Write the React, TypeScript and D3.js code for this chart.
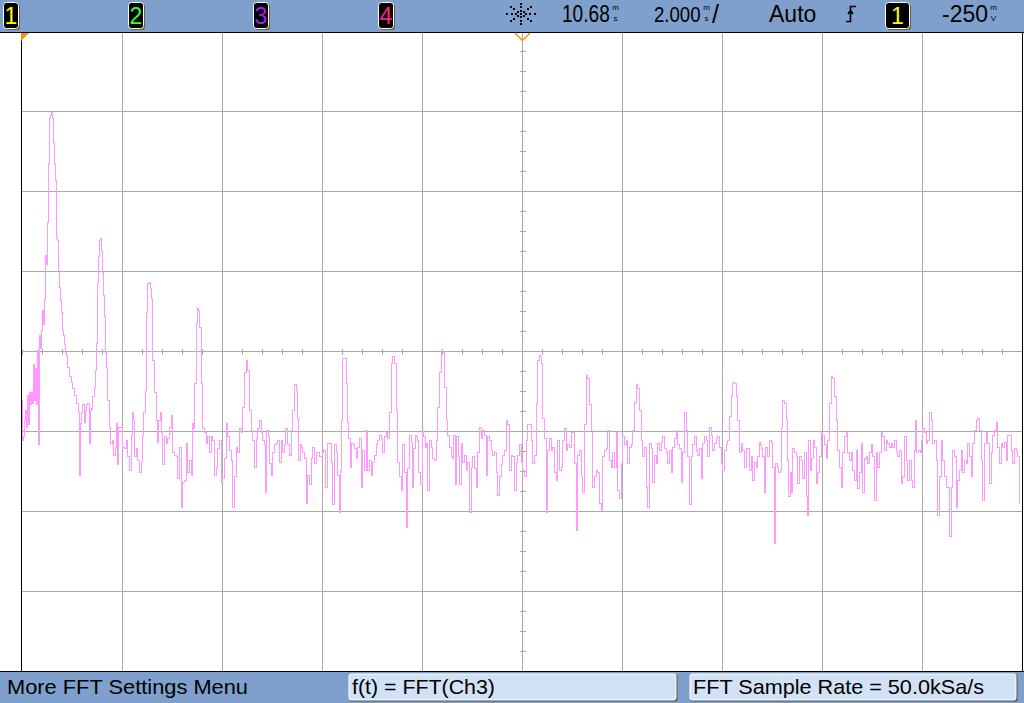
import React from "react";
import * as d3 from "d3";

// ---------- data ----------
// FFT display: 1000 display points across 10 divisions, 25 Hz per point (0 - 25 kHz span)
const spanKHz = 25;
const displayPoints = 1000;
// vertical: 10 dB/div, 8 divisions, top of screen = 0 dBV
const dbTop = 0;
const dbBottom = -80;

// [display point, magnitude dBV]
const spectrum: [number, number][] = [
  [1, -46.0], [2, -51.0], [3, -50.6], [4, -48.5], [5, -47.3], [6, -49.4], [7, -45.4], [8, -49.1],
  [9, -45.0], [10, -46.6], [11, -45.1], [12, -46.4], [13, -41.6], [14, -46.0], [15, -42.0], [16, -46.6],
  [17, -39.8], [18, -51.6], [19, -37.9], [20, -39.5], [21, -37.3], [22, -34.8], [23, -36.6], [24, -33.3],
  [25, -27.9], [26, -29.1], [27, -23.8], [28, -16.4], [29, -10.8], [30, -10.4], [31, -10.0], [32, -10.8],
  [33, -13.8], [34, -16.6], [35, -18.5], [36, -25.8], [37, -26.0], [38, -29.8], [39, -31.9], [40, -33.5],
  [41, -35.0], [42, -37.3], [43, -37.9], [44, -39.1], [45, -40.0], [46, -40.5], [47, -41.9], [49, -43.1],
  [51, -43.8], [52, -44.5], [54, -45.4], [56, -46.4], [58, -47.5], [59, -55.4], [60, -48.9], [61, -47.6],
  [62, -46.6], [64, -48.8], [65, -47.3], [66, -46.6], [67, -46.4], [69, -51.4], [70, -47.3], [71, -47.0],
  [72, -45.6], [74, -44.4], [75, -42.3], [76, -38.9], [77, -31.3], [78, -28.1], [79, -26.0], [80, -25.8],
  [81, -27.3], [82, -30.0], [83, -32.9], [84, -35.6], [85, -40.1], [86, -41.9], [87, -46.0], [89, -49.4],
  [90, -51.4], [92, -51.0], [93, -52.9], [95, -51.9], [96, -48.9], [97, -54.1], [98, -49.4], [100, -49.4],
  [102, -51.9], [104, -52.0], [106, -51.0], [107, -53.1], [109, -54.8], [111, -50.4], [112, -47.6], [113, -48.5],
  [114, -53.1], [116, -52.0], [117, -53.5], [119, -55.1], [121, -53.8], [122, -50.4], [123, -47.6], [125, -44.8],
  [126, -35.1], [127, -31.4], [129, -31.3], [130, -32.0], [131, -33.3], [132, -41.0], [134, -45.0], [136, -48.5],
  [137, -51.3], [138, -48.5], [140, -47.6], [141, -50.1], [142, -54.1], [144, -50.6], [146, -51.4], [147, -50.8],
  [149, -49.4], [151, -47.9], [152, -52.6], [154, -52.9], [156, -53.1], [157, -55.8], [159, -51.9], [161, -59.4],
  [162, -56.3], [164, -56.0], [166, -51.4], [167, -55.0], [169, -53.5], [171, -55.4], [172, -48.9], [173, -49.5],
  [174, -43.9], [176, -36.4], [177, -34.5], [178, -34.8], [179, -36.9], [181, -43.9], [182, -49.5], [184, -50.0],
  [186, -51.4], [187, -50.6], [189, -52.6], [191, -50.6], [192, -51.0], [194, -55.4], [196, -54.4], [197, -52.0],
  [199, -51.0], [201, -56.3], [202, -55.8], [204, -53.3], [206, -48.9], [207, -50.6], [209, -52.3], [211, -53.5],
  [212, -59.4], [214, -55.6], [216, -51.9], [217, -52.6], [219, -49.5], [221, -50.0], [222, -46.9], [224, -42.5],
  [226, -41.0], [227, -42.3], [229, -47.3], [231, -49.8], [232, -51.0], [234, -54.4], [236, -50.8], [237, -49.5],
  [239, -48.5], [241, -50.1], [242, -51.0], [244, -51.6], [245, -57.6], [246, -49.8], [248, -50.6], [249, -53.9],
  [251, -55.4], [252, -52.6], [254, -51.6], [256, -51.4], [257, -51.0], [259, -53.8], [261, -51.0], [262, -52.6],
  [264, -51.6], [265, -49.5], [267, -51.6], [269, -52.9], [271, -49.8], [272, -47.3], [274, -44.1], [275, -44.1],
  [276, -44.8], [277, -48.3], [278, -53.5], [280, -51.6], [281, -51.9], [282, -52.6], [284, -53.3], [286, -58.9],
  [287, -55.4], [289, -56.6], [291, -53.3], [292, -51.9], [294, -53.9], [296, -52.6], [297, -52.5], [299, -53.1],
  [301, -53.1], [302, -52.5], [303, -52.3], [305, -56.9], [307, -51.4], [309, -51.4], [311, -53.8], [312, -59.1],
  [314, -51.6], [316, -52.5], [317, -55.4], [319, -60.0], [320, -54.8], [321, -48.5], [322, -40.8], [324, -40.8],
  [326, -43.9], [327, -48.8], [328, -50.8], [330, -54.4], [331, -51.4], [333, -51.6], [334, -52.0], [336, -53.3],
  [337, -51.9], [339, -50.8], [341, -56.9], [342, -52.3], [344, -54.8], [346, -49.8], [347, -54.8], [349, -53.5],
  [351, -55.4], [352, -53.8], [354, -52.9], [356, -51.6], [357, -51.0], [359, -50.4], [361, -50.8], [362, -52.5],
  [364, -50.6], [366, -50.0], [367, -50.8], [369, -47.6], [371, -41.4], [372, -40.6], [374, -41.4], [376, -47.3],
  [377, -53.8], [379, -55.6], [381, -57.3], [382, -51.6], [384, -55.0], [386, -61.9], [387, -54.5], [389, -50.4],
  [391, -51.3], [392, -56.9], [393, -52.0], [395, -50.4], [396, -50.6], [397, -51.0], [398, -55.1], [400, -56.6],
  [402, -49.8], [403, -50.6], [405, -51.9], [406, -51.4], [407, -57.3], [409, -51.0], [411, -51.9], [412, -53.3],
  [414, -53.5], [416, -51.0], [417, -46.9], [419, -42.6], [421, -39.8], [422, -40.0], [424, -44.4], [426, -48.5],
  [427, -50.4], [429, -51.9], [431, -53.1], [432, -53.3], [433, -50.4], [435, -56.6], [436, -50.6], [438, -53.1],
  [439, -56.6], [441, -51.4], [442, -53.8], [444, -52.9], [446, -54.8], [447, -53.8], [449, -60.0], [451, -54.4],
  [452, -53.1], [454, -54.5], [456, -56.9], [457, -52.5], [459, -49.4], [461, -50.8], [462, -49.8], [464, -50.4],
  [466, -55.4], [467, -50.6], [469, -51.0], [471, -52.3], [472, -52.9], [474, -52.6], [476, -55.0], [477, -57.9],
  [479, -55.6], [481, -54.1], [482, -52.9], [484, -52.3], [486, -48.5], [487, -49.1], [489, -54.8], [491, -52.9],
  [492, -53.1], [494, -57.3], [496, -53.8], [497, -52.9], [499, -51.6], [501, -53.8], [502, -54.8], [504, -55.6],
  [506, -51.0], [507, -49.1], [509, -49.1], [511, -51.0], [512, -53.9], [514, -52.9], [516, -46.4], [517, -41.0],
  [519, -40.4], [520, -40.5], [521, -41.4], [522, -48.3], [524, -50.8], [526, -60.1], [527, -52.3], [529, -50.8],
  [531, -52.3], [532, -51.9], [534, -55.1], [536, -56.0], [537, -51.0], [539, -54.8], [541, -54.4], [542, -51.0],
  [544, -49.5], [546, -52.3], [547, -51.6], [549, -51.9], [551, -50.1], [552, -50.0], [554, -53.9], [556, -62.3],
  [557, -52.9], [559, -52.3], [561, -55.6], [562, -57.6], [564, -49.1], [566, -42.9], [567, -43.3], [569, -46.6],
  [571, -49.8], [572, -56.9], [574, -55.6], [576, -54.8], [577, -55.1], [579, -58.9], [581, -59.8], [582, -53.1],
  [584, -52.3], [586, -52.0], [587, -49.8], [589, -53.5], [591, -54.4], [592, -52.6], [594, -54.4], [596, -50.0],
  [597, -57.3], [599, -58.3], [601, -53.9], [602, -50.6], [604, -51.6], [606, -51.0], [607, -53.9], [609, -51.9],
  [611, -51.6], [612, -49.8], [614, -46.3], [616, -44.1], [617, -44.5], [619, -47.3], [621, -51.0], [622, -53.1],
  [624, -51.9], [626, -56.9], [627, -59.4], [629, -51.4], [631, -52.0], [632, -56.3], [634, -52.9], [636, -53.9],
  [637, -51.4], [639, -52.3], [641, -51.3], [642, -50.6], [644, -52.0], [646, -52.6], [647, -53.9], [649, -52.3],
  [651, -55.1], [652, -51.9], [654, -50.8], [656, -49.8], [657, -51.6], [659, -52.0], [661, -56.3], [662, -52.5],
  [664, -47.6], [666, -49.8], [667, -53.1], [669, -59.1], [671, -53.1], [672, -51.6], [674, -50.6], [676, -52.3],
  [677, -52.9], [679, -52.0], [681, -55.8], [682, -51.4], [684, -50.6], [686, -51.0], [687, -53.1], [689, -49.4],
  [691, -50.4], [692, -52.3], [694, -51.4], [696, -50.8], [697, -50.6], [699, -51.9], [701, -53.9], [702, -54.8],
  [704, -52.3], [706, -51.6], [707, -51.0], [709, -48.1], [711, -45.6], [712, -43.8], [714, -43.9], [716, -45.6],
  [717, -48.5], [719, -52.6], [721, -51.4], [722, -52.3], [724, -54.4], [726, -52.0], [727, -52.0], [729, -54.8],
  [731, -53.1], [732, -56.0], [734, -53.8], [736, -54.4], [737, -53.1], [739, -51.3], [740, -51.6], [741, -52.0],
  [742, -53.1], [744, -57.6], [745, -51.9], [747, -53.1], [749, -51.0], [751, -51.3], [752, -54.4], [754, -63.9],
  [755, -53.9], [757, -54.4], [758, -55.1], [760, -54.8], [761, -49.4], [762, -46.0], [764, -46.4], [766, -48.5],
  [767, -53.5], [768, -58.1], [770, -55.1], [771, -57.6], [772, -52.0], [774, -52.6], [776, -53.1], [777, -56.4],
  [779, -53.1], [781, -53.5], [782, -55.8], [784, -52.5], [786, -58.1], [787, -60.4], [788, -51.0], [790, -54.8],
  [791, -53.3], [793, -51.0], [794, -51.9], [796, -56.4], [797, -55.1], [799, -53.1], [801, -50.0], [802, -50.4],
  [804, -51.6], [806, -53.3], [807, -51.0], [809, -46.4], [811, -43.1], [812, -43.3], [814, -45.6], [816, -48.5],
  [817, -52.3], [819, -54.4], [821, -56.9], [822, -52.6], [824, -50.6], [826, -50.1], [827, -52.6], [829, -53.5],
  [831, -52.6], [832, -54.8], [834, -56.0], [836, -52.3], [837, -57.0], [839, -55.1], [841, -51.4], [842, -57.6],
  [844, -53.3], [846, -53.1], [847, -53.9], [849, -52.6], [851, -51.6], [852, -53.1], [854, -58.5], [856, -52.6],
  [857, -54.4], [859, -52.5], [861, -50.1], [862, -50.6], [864, -52.3], [866, -51.0], [867, -51.4], [869, -51.9],
  [871, -51.4], [872, -51.9], [874, -51.0], [876, -52.6], [877, -53.1], [879, -52.3], [881, -56.4], [882, -55.6],
  [884, -50.6], [886, -53.5], [887, -56.0], [889, -53.5], [891, -56.0], [892, -56.9], [894, -52.3], [895, -48.5],
  [896, -52.6], [898, -52.3], [900, -52.6], [901, -51.0], [902, -49.5], [904, -50.0], [906, -51.4], [907, -51.0],
  [909, -47.6], [911, -48.5], [912, -51.4], [914, -51.0], [916, -53.5], [917, -60.4], [919, -55.6], [921, -51.0],
  [922, -53.5], [924, -55.6], [926, -56.9], [927, -56.9], [929, -63.1], [931, -56.9], [932, -52.3], [934, -53.1],
  [936, -59.4], [937, -56.0], [939, -54.8], [941, -52.3], [942, -55.1], [944, -53.5], [946, -53.9], [947, -51.4],
  [949, -53.1], [951, -55.6], [952, -51.4], [954, -49.8], [956, -48.5], [957, -48.3], [959, -49.8], [961, -53.5],
  [962, -58.5], [964, -51.4], [966, -50.1], [967, -51.4], [969, -56.4], [971, -52.6], [972, -50.4], [974, -49.8],
  [976, -48.8], [977, -51.9], [979, -53.9], [981, -51.4], [982, -51.9], [984, -51.3], [986, -53.5], [987, -50.4],
  [989, -50.4], [991, -52.3], [992, -53.9], [994, -52.0], [996, -52.3], [997, -53.1], [999, -58.9],
];

const channelLabels = ["1", "2", "3", "4"];
const channelColors = ["#ffff00", "#33ff33", "#a020f0", "#ff2090"];
const delayValue = "10.68";
const timebaseValue = "2.000";
const triggerMode = "Auto";
const triggerSource = "1";
const triggerLevel = "-250";
const softkeyTitle = "More FFT Settings Menu";
const softkeys = ["f(t) = FFT(Ch3)", "FFT Sample Rate = 50.0kSa/s"];

// ---------- styles ----------
const W = 1024;
const H = 703;
const BAR = "#7fa0cd";
const GRID = "#a9a9a9";
const TRACE = "#ff99ff";
const ORANGE = "#ff9000";
const FONT = "'Liberation Sans', Arial, sans-serif";

function Badge({ x, y, w, h, label, color }: any) {
  return (
    <g>
      <rect x={x + 1.5} y={y + 1.5} width={w} height={h} rx={3} fill="#6b6238" />
      <rect x={x} y={y} width={w} height={h} rx={3} fill="#000" stroke="#fff" strokeWidth={1} />
      <text x={x + w / 2} y={y + h / 2 + 8} textAnchor="middle" fill={color} fontSize={23} fontFamily={FONT}>
        {label}
      </text>
    </g>
  );
}

function Units({ x, top, bottom }: any) {
  return (
    <g fontFamily={FONT} fontSize={8} fill="#000" textAnchor="middle">
      <text x={x} y={10}>{top}</text>
      <text x={x} y={21}>{bottom}</text>
    </g>
  );
}

export default function App() {
  const left = 21, right = 1021, top = 32, bottom = 672;
  const x = d3.scaleLinear().domain([0, displayPoints]).range([left, right]);
  const y = d3.scaleLinear().domain([dbTop, dbBottom]).range([top, bottom]);
  const divX = d3.scaleLinear().domain([0, 10]).range([22, 1022]);
  const divY = d3.scaleLinear().domain([0, 8]).range([31, 671]);

  const line = d3
    .line<[number, number]>()
    .x((d) => x(d[0]))
    .y((d) => y(d[1]))
    .curve(d3.curveStep);

  const vGrid = d3.range(1, 10).map((i) => Math.round(divX(i)) + 0.5);
  const hGrid = d3.range(1, 8).map((i) => Math.round(divY(i)) + 0.5);
  const cx = Math.round(divX(5)) + 0.5;
  const cy = Math.round(divY(4)) + 0.5;
  const hTicks = d3.range(0, 50).map((i) => Math.round(divX(i / 5)) + 0.5).filter((v) => v > left + 1);
  const vTicks = d3.range(0, 32).map((i) => Math.round(divY(i / 4)) + 0.5).filter((v) => v > top + 1);

  // sun (acquisition) icon dots
  const sun: [number, number][] = [[521, 14]];
  for (let a = 0; a < 8; a++) {
    const ang = (a * Math.PI) / 4;
    for (const r of [4, 8, 12]) sun.push([521 + Math.cos(ang) * r * 1.15, 14 + Math.sin(ang) * r * 0.85]);
  }

  return (
    <svg width={W} height={H} style={{ position: "absolute", left: 0, top: 0, background: "#fff" }}>
      <rect x={0} y={0} width={W} height={H} fill="#fff" />
      {/* top status bar */}
      <rect x={0} y={0} width={W} height={32} fill={BAR} />
      {channelLabels.map((c, i) => (
        <Badge key={c} x={3.5 + i * 125} y={2.5} w={15} h={26} label={c} color={channelColors[i]} />
      ))}
      <g fill="#000">
        {sun.map((p, i) => (
          <rect key={i} x={Math.round(p[0] - 1)} y={Math.round(p[1] - 1)} width={2} height={2} />
        ))}
      </g>
      <g fontFamily={FONT} fontSize={23} fill="#000">
        <text transform="translate(562,22) scale(0.83,1)">{delayValue}</text>
        <text transform="translate(654,22) scale(0.81,1)">{timebaseValue}</text>
        <text x={712} y={23} fontSize={25}>/</text>
        <text x={769} y={22}>{triggerMode}</text>
        <text x={942} y={22}>{triggerLevel}</text>
      </g>
      <Units x={615.5} top="m" bottom="s" />
      <Units x={706.5} top="m" bottom="s" />
      <Units x={993.5} top="m" bottom="V" />
      <path d="M846,21.5 H850.5 V6.5 H856 M848,14 L850.5,10.5 L853,14" fill="none" stroke="#000" strokeWidth={1.6} />
      <Badge x={885.5} y={2.5} w={24} h={26} label={triggerSource} color="#ffff00" />

      {/* graticule */}
      <g stroke={GRID} strokeWidth={1} shapeRendering="crispEdges">
        {vGrid.map((v) => (
          <line key={"v" + v} x1={v} x2={v} y1={top} y2={bottom} />
        ))}
        {hGrid.map((h) => (
          <line key={"h" + h} x1={left} x2={1022} y1={h} y2={h} />
        ))}
        {hTicks.map((t) => (
          <line key={"ht" + t} x1={t} x2={t} y1={cy - 3} y2={cy + 3} />
        ))}
        {vTicks.map((t) => (
          <line key={"vt" + t} x1={cx - 3} x2={cx + 3} y1={t} y2={t} />
        ))}
      </g>

      {/* trace */}
      <clipPath id="plot">
        <rect x={left + 1} y={top + 1} width={right - left} height={bottom - top - 1} />
      </clipPath>
      <path d={line(spectrum) || ""} fill="none" stroke={TRACE} strokeWidth={1} clipPath="url(#plot)" shapeRendering="crispEdges" />

      {/* borders */}
      <g stroke="#000" strokeWidth={1} shapeRendering="crispEdges">
        <line x1={0} x2={W} y1={32.5} y2={32.5} />
        <line x1={0} x2={W} y1={671.5} y2={671.5} />
        <line x1={21.5} x2={21.5} y1={32} y2={672} />
        <line x1={1022.5} x2={1022.5} y1={32} y2={672} />
      </g>

      {/* markers */}
      <path d="M21,33 H29 L21,41 Z" fill={ORANGE} />
      <path d="M515,33 L522.5,40.5 L530,33" fill="none" stroke={ORANGE} strokeWidth={1.5} />

      {/* softkey bar */}
      <rect x={0} y={672} width={W} height={31} fill={BAR} />
      <text x={7} y={694} fontFamily={FONT} fontSize={21} fill="#000" textLength={241} lengthAdjust="spacingAndGlyphs">
        {softkeyTitle}
      </text>
      {[349, 690].map((bx, i) => (
        <g key={bx}>
          <rect x={bx + 0.5} y={674.5} width={i === 0 ? 328 : 327} height={27} rx={2} fill="#5a5230" />
          <rect x={bx} y={674} width={i === 0 ? 327 : 326} height={26} rx={2} fill="#d2e2f6" stroke="#ffffff" strokeWidth={1} />
          <text
            x={bx + 3}
            y={694}
            fontFamily={FONT}
            fontSize={21}
            fill="#000"
            textLength={i === 0 ? 143 : 291}
            lengthAdjust="spacingAndGlyphs"
          >
            {softkeys[i]}
          </text>
        </g>
      ))}
    </svg>
  );
}
